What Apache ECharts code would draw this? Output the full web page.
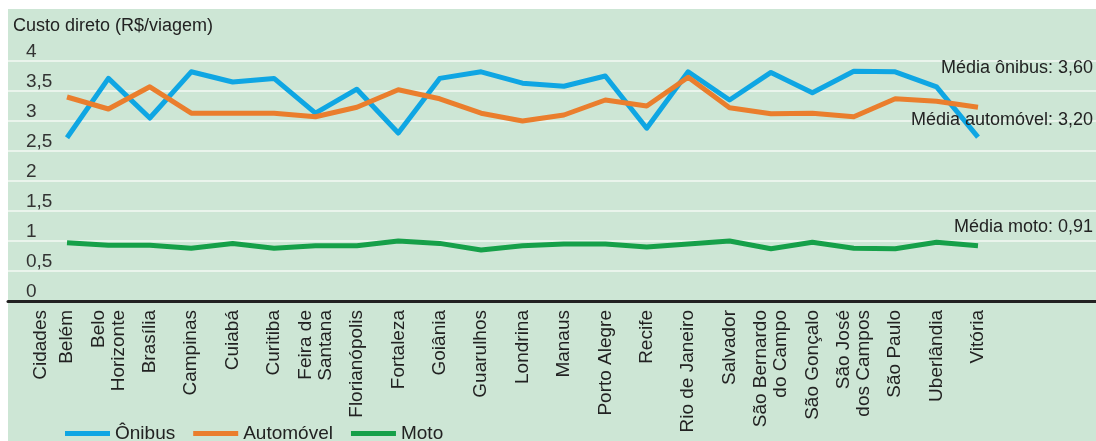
<!DOCTYPE html>
<html>
<head>
<meta charset="utf-8">
<script src="https://cdn.jsdelivr.net/npm/echarts@6/dist/echarts.min.js"></script>
<style>
  body { margin: 0; background: #fff; }
  #wrap { position: relative; width: 1096px; height: 441px; }
  #bg { position: absolute; left: 8px; top: 9px; width: 1088px; height: 432px; background: #cde6d5; }
  #chart { position: absolute; left: 0; top: 0; width: 1096px; height: 441px; }
</style>
</head>
<body>
<div id="wrap">
  <div id="bg"></div>
  <div id="chart"></div>
</div>
<script>
// dados
var cidades = ['Belém', 'Belo\nHorizonte', 'Brasília', 'Campinas', 'Cuiabá', 'Curitiba',
  'Feira de\nSantana', 'Florianópolis', 'Fortaleza', 'Goiânia', 'Guarulhos', 'Londrina',
  'Manaus', 'Porto Alegre', 'Recife', 'Rio de Janeiro', 'Salvador', 'São Bernardo\ndo Campo',
  'São Gonçalo', 'São José\ndos Campos', 'São Paulo', 'Uberlândia', 'Vitória'];
var onibus = [2.72, 3.71, 3.05, 3.82, 3.65, 3.71, 3.13, 3.53, 2.80, 3.71, 3.82, 3.63,
  3.58, 3.75, 2.88, 3.82, 3.35, 3.81, 3.47, 3.83, 3.82, 3.57, 2.73];
var automovel = [3.40, 3.20, 3.57, 3.13, 3.13, 3.13, 3.07, 3.23, 3.52, 3.37, 3.13, 3.00,
  3.10, 3.35, 3.25, 3.73, 3.22, 3.12, 3.13, 3.07, 3.37, 3.33, 3.23];
var moto = [0.97, 0.93, 0.93, 0.88, 0.96, 0.88, 0.92, 0.92, 1.00, 0.96, 0.85, 0.92,
  0.95, 0.95, 0.90, 0.95, 1.00, 0.87, 0.98, 0.88, 0.87, 0.98, 0.92];
var serieNomes = ['Ônibus', 'Automóvel', 'Moto'];
var medias = ['Média ônibus: 3,60', 'Média automóvel: 3,20', 'Média moto: 0,91'];
var yMin = 0, yMax = 4, yStep = 0.5;

var fonte = '"Liberation Sans", Arial, sans-serif';
var cores = ['#0fa6e3', '#ea7e2d', '#16a049'];

var myChart = echarts.init(document.getElementById('chart'));

var option = {
  backgroundColor: 'transparent',
  animation: false,
  textStyle: { fontFamily: fonte },
  title: {
    text: 'Custo direto (R$/viagem)',
    left: 13,
    top: 17,
    padding: 0,
    textStyle: { fontSize: 18, fontWeight: 'normal', color: '#222', fontFamily: fonte }
  },
  legend: {
    left: 65,
    top: 424,
    padding: 0,
    icon: 'rect',
    itemWidth: 45,
    itemHeight: 5,
    itemGap: 18,
    data: serieNomes,
    textStyle: { fontSize: 19, color: '#222', fontFamily: fonte }
  },
  grid: [
    { left: 8, right: 0, top: 61, bottom: 140 },
    { left: 46.3, width: 952.4, top: 61, bottom: 140 }
  ],
  xAxis: [
    {
      gridIndex: 0, type: 'value', min: 0, max: 1,
      axisLine: { show: true, lineStyle: { color: '#222', width: 3 } },
      axisTick: { show: false }, axisLabel: { show: false }, splitLine: { show: false }
    },
    {
      gridIndex: 1, type: 'category', data: cidades, boundaryGap: true,
      axisLine: { show: false }, axisTick: { show: false },
      axisLabel: {
        interval: 0, rotate: 90, margin: 9, fontSize: 19, lineHeight: 20,
        color: '#222', fontFamily: fonte
      }
    }
  ],
  yAxis: [
    {
      gridIndex: 0, type: 'value', min: yMin, max: yMax, interval: yStep,
      axisLine: { show: false }, axisTick: { show: false },
      splitLine: { lineStyle: { color: '#eaf4ec', width: 2 } },
      axisLabel: {
        inside: true, margin: 18, align: 'left', verticalAlign: 'bottom',
        fontSize: 19, color: '#333', fontFamily: fonte,
        formatter: function (v) { return String(v).replace('.', ','); }
      }
    },
    {
      gridIndex: 1, type: 'value', min: yMin, max: yMax, interval: yStep,
      show: false
    }
  ],
  graphic: [
    {
      type: 'text', z: 100, x: 41, y: 310, rotation: Math.PI / 2,
      style: { text: 'Cidades', fontSize: 19, fontFamily: fonte, fill: '#222',
        align: 'right', verticalAlign: 'middle' }
    },
    {
      type: 'text', z: 100, x: 1093, y: 68,
      style: { text: medias[0], fontSize: 18, fontFamily: fonte, fill: '#222',
        align: 'right', verticalAlign: 'middle' }
    },
    {
      type: 'text', z: 100, x: 1093, y: 120,
      style: { text: medias[1], fontSize: 18, fontFamily: fonte, fill: '#222',
        align: 'right', verticalAlign: 'middle' }
    },
    {
      type: 'text', z: 100, x: 1093, y: 227,
      style: { text: medias[2], fontSize: 18, fontFamily: fonte, fill: '#222',
        align: 'right', verticalAlign: 'middle' }
    }
  ],
  series: [
    { name: serieNomes[0], data: onibus },
    { name: serieNomes[1], data: automovel },
    { name: serieNomes[2], data: moto }
  ].map(function (s, i) {
    return {
      name: s.name, type: 'line', data: s.data,
      xAxisIndex: 1, yAxisIndex: 1,
      symbol: 'none', smooth: false,
      itemStyle: { color: cores[i] },
      lineStyle: { color: cores[i], width: 5, join: 'round' }
    };
  })
};

myChart.setOption(option);
</script>
</body>
</html>
